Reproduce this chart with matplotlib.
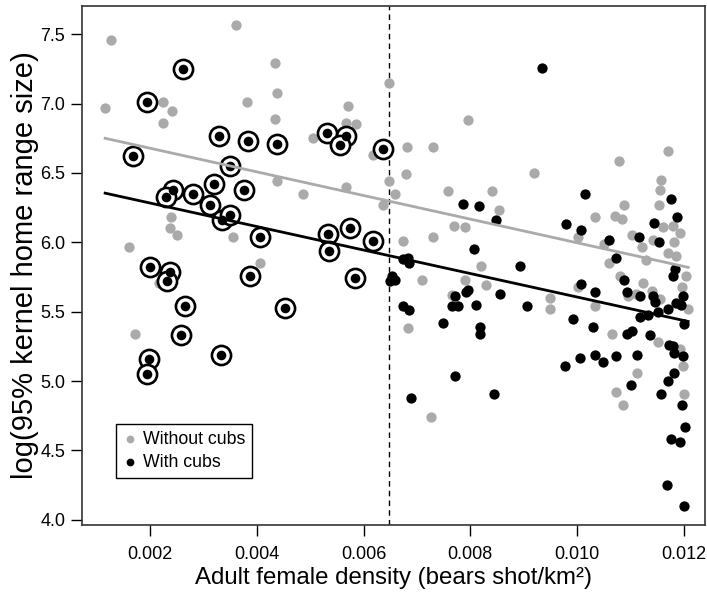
import matplotlib
matplotlib.use("Agg")
import matplotlib.pyplot as plt
from matplotlib.ticker import FormatStrFormatter

plt.rcParams["font.family"] = ["Liberation Sans", "DejaVu Sans"]

# ---- data ----
# females without cubs
nocub_x = [0.00127, 0.00361, 0.00116, 0.00224, 0.00241, 0.00224, 0.00382, 0.00435,
           0.00437, 0.00571, 0.00434, 0.00567, 0.00585, 0.00506, 0.00648, 0.00682,
           0.00731, 0.00618, 0.00796, 0.00679, 0.00438, 0.00487, 0.00568, 0.00648,
           0.00659, 0.00759, 0.01171, 0.01079, 0.00919, 0.00841, 0.01157, 0.01156,
           0.00239, 0.00237, 0.00251, 0.00161, 0.00355, 0.00406, 0.00217, 0.00172,
           0.00636, 0.00673, 0.00731, 0.00769, 0.00790, 0.00709, 0.00790, 0.00684,
           0.00765, 0.00854, 0.01033, 0.01071, 0.01085, 0.01088, 0.01154, 0.01161,
           0.01179, 0.01193, 0.01102, 0.01121, 0.01143, 0.01182, 0.01171, 0.01185,
           0.01129, 0.01060, 0.01051, 0.01002, 0.01080, 0.01123, 0.01204, 0.01196,
           0.01140, 0.01155, 0.01110, 0.01096, 0.01002, 0.01033, 0.00949, 0.00949,
           0.01208, 0.00820, 0.00829, 0.01066, 0.01152, 0.01193, 0.01199, 0.01113,
           0.01072, 0.01086, 0.01201, 0.00726]
nocub_y = [7.46, 7.57, 6.97, 7.01, 6.95, 6.86, 7.01, 7.29,
           7.08, 6.98, 6.89, 6.86, 6.85, 6.75, 7.15, 6.69,
           6.69, 6.63, 6.88, 6.49, 6.44, 6.35, 6.40, 6.44,
           6.35, 6.37, 6.66, 6.59, 6.50, 6.37, 6.45, 6.38,
           6.18, 6.10, 6.05, 5.97, 6.04, 5.85, 5.71, 5.34,
           6.27, 6.01, 6.04, 6.12, 6.11, 5.73, 5.73, 5.38,
           5.62, 6.23, 6.18, 6.19, 6.17, 6.27, 6.27, 6.11,
           6.12, 6.07, 6.05, 5.97, 6.02, 6.00, 5.92, 5.90,
           5.87, 5.85, 5.99, 6.04, 5.76, 5.71, 5.76, 5.68,
           5.65, 5.59, 5.63, 5.61, 5.68, 5.54, 5.60, 5.52,
           5.52, 5.83, 5.69, 5.34, 5.28, 5.23, 5.11, 5.06,
           4.92, 4.83, 4.91, 4.74]

# females with cubs
cub_x = [0.00934, 0.01014, 0.01176, 0.00786, 0.00817, 0.00673, 0.00684, 0.00685,
         0.00653, 0.00659, 0.00650, 0.00673, 0.00686, 0.00748, 0.00771, 0.00765,
         0.00777, 0.00792, 0.00796, 0.00771, 0.00849, 0.00807, 0.00893, 0.00856,
         0.00810, 0.00907, 0.00818, 0.00818, 0.00979, 0.01007, 0.01060, 0.01072,
         0.01188, 0.01144, 0.01154, 0.01116, 0.01183, 0.01180, 0.01007, 0.01033,
         0.01088, 0.01094, 0.01118, 0.01143, 0.01145, 0.01198, 0.01185, 0.01194,
         0.01171, 0.01118, 0.01133, 0.01152, 0.01200, 0.00993, 0.01030, 0.01093,
         0.01103, 0.01137, 0.01173, 0.01180, 0.01182, 0.01199, 0.01113, 0.01073,
         0.01033, 0.01048, 0.01005, 0.00977, 0.01182, 0.01171, 0.01101, 0.00845,
         0.01158, 0.01196, 0.01203, 0.01176, 0.01193, 0.01168, 0.01200, 0.00689]
cub_y = [7.26, 6.35, 6.31, 6.28, 6.26, 5.88, 5.89, 5.85,
         5.76, 5.73, 5.72, 5.54, 5.51, 5.42, 5.61, 5.54,
         5.54, 5.64, 5.66, 5.04, 6.16, 5.95, 5.83, 5.63,
         5.55, 5.54, 5.39, 5.34, 6.13, 6.09, 6.02, 5.89,
         6.18, 6.14, 6.00, 6.04, 5.81, 5.76, 5.70, 5.64,
         5.73, 5.64, 5.61, 5.61, 5.57, 5.61, 5.56, 5.55,
         5.52, 5.46, 5.48, 5.50, 5.41, 5.45, 5.39, 5.34,
         5.36, 5.33, 5.26, 5.25, 5.20, 5.18, 5.19, 5.18,
         5.19, 5.14, 5.17, 5.11, 5.06, 5.00, 4.97, 4.91,
         4.91, 4.83, 4.67, 4.58, 4.56, 4.25, 4.10, 4.88]

# females with cubs, highlighted (circled) at low density
ring_x = [0.00262, 0.00194, 0.00330, 0.00384, 0.00169, 0.00350, 0.00244, 0.00319,
          0.00281, 0.00377, 0.00230, 0.00312, 0.00335, 0.00350, 0.00406, 0.00200,
          0.00237, 0.00232, 0.00266, 0.00387, 0.00259, 0.00333, 0.00199, 0.00195,
          0.00437, 0.00531, 0.00568, 0.00555, 0.00636, 0.00533, 0.00575, 0.00618,
          0.00535, 0.00584, 0.00452]
ring_y = [7.25, 7.01, 6.77, 6.73, 6.62, 6.55, 6.38, 6.42,
          6.35, 6.38, 6.33, 6.27, 6.16, 6.20, 6.04, 5.82,
          5.79, 5.72, 5.54, 5.76, 5.33, 5.19, 5.16, 5.05,
          6.71, 6.79, 6.77, 6.70, 6.67, 6.06, 6.10, 6.01,
          5.94, 5.74, 5.53]

# fitted lines: intercept, slope, and x range
fit_range = [0.00116, 0.01208]
fit_nocub = (6.849, -85.2)
fit_cub = (6.453, -84.7)
threshold = 0.00648

GREY = "#aaaaaa"

fig = plt.figure(figsize=(7.07, 5.97), dpi=100)
ax = fig.add_axes([0.116, 0.1206, 0.881, 0.869])

ax.scatter(nocub_x, nocub_y, s=55, c=GREY, linewidths=0, zorder=2, label="Without cubs")
ax.scatter(cub_x, cub_y, s=55, c="black", linewidths=0, zorder=3, label="With cubs")
ax.scatter(ring_x, ring_y, s=190, facecolors="white", edgecolors="black",
           linewidths=1.9, zorder=4)
ax.scatter(ring_x, ring_y, s=48, c="black", linewidths=0, zorder=5)

for (a, b), col in [(fit_nocub, GREY), (fit_cub, "black")]:
    ax.plot(fit_range, [a + b * v for v in fit_range], color=col, lw=2, zorder=6)

ax.axvline(threshold, color="black", lw=1, ls=(0, (4, 3)), zorder=1)

ax.set_xlim(0.000727, 0.012393)
ax.set_ylim(3.963, 7.702)
ax.set_xticks([0.002, 0.004, 0.006, 0.008, 0.010, 0.012])
ax.set_yticks([4.0, 4.5, 5.0, 5.5, 6.0, 6.5, 7.0, 7.5])
ax.xaxis.set_major_formatter(FormatStrFormatter("%.3f"))
ax.yaxis.set_major_formatter(FormatStrFormatter("%.1f"))
ax.tick_params(direction="out", length=8, width=1, labelsize=13, colors="black")
ax.tick_params(axis="x", pad=7)
ax.tick_params(axis="y", pad=4)
for sp in ax.spines.values():
    sp.set_color("#333333")
    sp.set_linewidth(1.2)

ax.set_xlabel("Adult female density (bears shot/km²)", fontsize=17.3, labelpad=3)
ax.set_ylabel("log(95% kernel home range size)", fontsize=21, labelpad=1)

leg = ax.legend(loc="lower left", bbox_to_anchor=(0.0546, 0.0906), borderaxespad=0,
                fontsize=12.8, markerscale=0.75, handletextpad=0.3, handlelength=0.8,
                borderpad=0.4, labelspacing=0.35, fancybox=False, framealpha=1)
leg.get_frame().set_edgecolor("black")
leg.get_frame().set_linewidth(1)

fig.savefig("out.png", dpi=100)
